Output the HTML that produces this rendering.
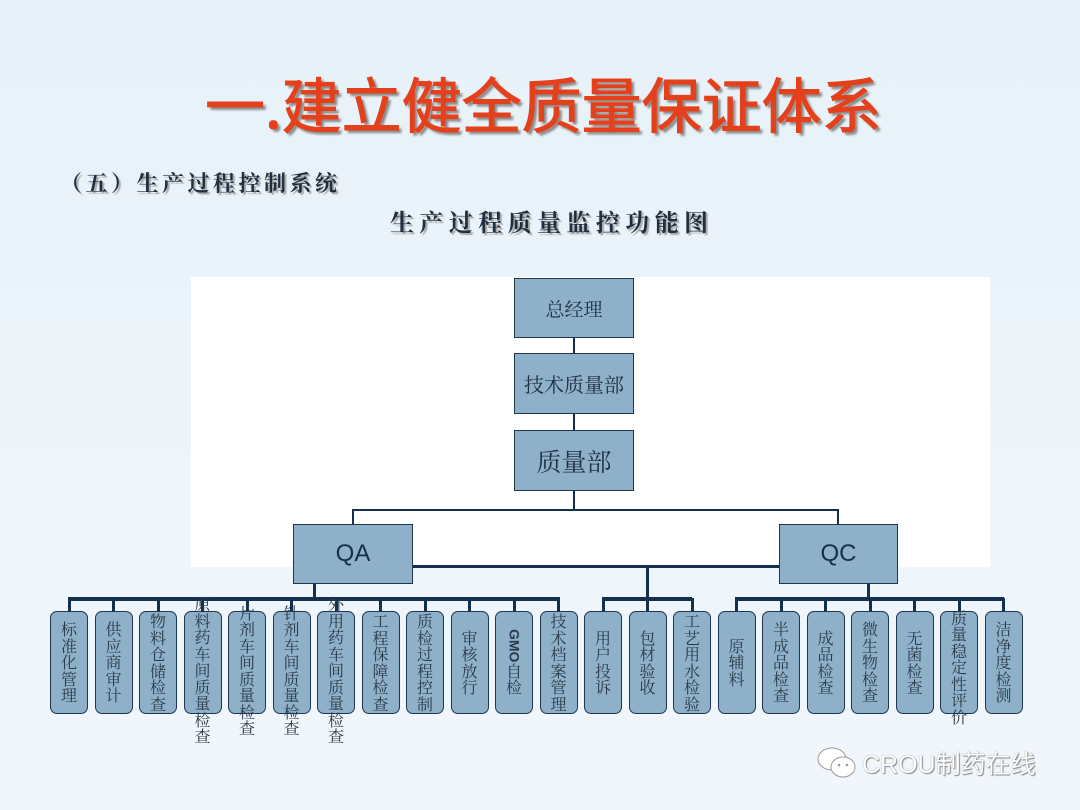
<!DOCTYPE html>
<html><head><meta charset="utf-8"><style>
html,body{margin:0;padding:0}
body{width:1080px;height:810px;position:relative;overflow:hidden;background:linear-gradient(180deg,#e6f1f8 0%,#eef5fb 60%,#f0f6fb 100%);font-family:"Liberation Sans","Noto Sans CJK SC",sans-serif}
.abs{position:absolute}
.title{left:205px;top:68px;font-size:60px;color:#e5401c;font-family:"Noto Sans CJK SC",sans-serif;font-weight:normal;white-space:nowrap;text-shadow:3px 3px 2px #8a8a8a;line-height:70px;-webkit-text-stroke:1px #e5401c}
.sub{left:60px;top:168px;font-size:22px;color:#1f2f40;letter-spacing:3.5px;white-space:nowrap;text-shadow:2px 2px 1px #aaa;font-family:"Noto Serif CJK SC",serif;font-weight:bold;line-height:30px}
.sub2{left:390px;top:205px;font-size:24px;color:#1f2f40;letter-spacing:5.4px;white-space:nowrap;text-shadow:2px 2px 1px #aaa;font-family:"Noto Serif CJK SC",serif;font-weight:bold;line-height:32px}
.panel{left:191px;top:277px;width:799px;height:290px;background:#fff}
.tb{background:#8eb0c8;border:1.5px solid #1f3550;box-sizing:border-box;display:flex;align-items:center;justify-content:center;color:#1f2f45;font-family:"Noto Serif CJK SC",serif}
.bx{position:absolute;top:611px;width:38px;height:103px;background:#8eb0c8;border:1.5px solid #1f3550;border-radius:7px;box-sizing:border-box}
.vt{position:absolute;top:611px;width:38px;height:103px;display:flex;flex-direction:column;align-items:center;justify-content:center;font-size:16px;line-height:16.5px;color:#2a3a4a;font-family:"Noto Serif CJK SC",serif}
.ln{position:absolute;background:#13304f}
.wm{left:862px;top:745px;font-size:25px;color:#fff;text-shadow:0 0 1px #777,1px 1px 1px #888;white-space:nowrap}
</style></head><body>
<div class="abs title">一.建立健全质量保证体系</div>
<div class="abs sub">（五）生产过程控制系统</div>
<div class="abs sub2">生产过程质量监控功能图</div>
<div class="abs panel"></div>

<div class="ln" style="left:573px;top:337px;width:2px;height:18px"></div>
<div class="ln" style="left:573px;top:413px;width:2px;height:18px"></div>
<div class="ln" style="left:573px;top:490px;width:2px;height:20px"></div>
<div class="ln" style="left:352px;top:509px;width:486px;height:1.5px"></div>
<div class="ln" style="left:352px;top:509px;width:1.5px;height:16px"></div>
<div class="ln" style="left:837px;top:509px;width:1.5px;height:16px"></div>
<div class="ln" style="left:412px;top:565px;width:368px;height:3px"></div>
<div class="ln" style="left:646px;top:565px;width:3px;height:35px"></div>
<div class="ln" style="left:313px;top:583px;width:3px;height:17px"></div>
<div class="ln" style="left:867px;top:583px;width:3px;height:17px"></div>
<div class="ln" style="left:68px;top:597px;width:492px;height:3.5px"></div>
<div class="ln" style="left:602px;top:597px;width:90px;height:3.5px"></div>
<div class="ln" style="left:735px;top:597px;width:269px;height:3.5px"></div>
<div id="drops"></div>

<div class="abs tb" style="left:514px;top:278px;width:120px;height:60px;font-size:19px">总经理</div>
<div class="abs tb" style="left:514px;top:353px;width:120px;height:61px;font-size:20px">技术质量部</div>
<div class="abs tb" style="left:514px;top:430px;width:120px;height:61px;font-size:25px">质量部</div>
<div class="abs tb" style="left:293px;top:524px;width:120px;height:60px;font-size:24px;font-family:'Liberation Sans',sans-serif;color:#13304f">QA</div>
<div class="abs tb" style="left:779px;top:524px;width:119px;height:60px;font-size:24px;font-family:'Liberation Sans',sans-serif;color:#13304f">QC</div>

<div id="boxes"></div>
<script>
var t=["标准化管理","供应商审计","物料仓储检查","原料药车间质量检查","片剂车间质量检查","针剂车间质量检查","外用药车间质量检查","工程保障检查","质检过程控制","审核放行","GMO自检","技术档案管理","用户投诉","包材验收","工艺用水检验","原辅料","半成品检查","成品检查","微生物检查","无菌检查","质量稳定性评价","洁净度检测"];
var h="",d="";
for(var i=0;i<22;i++){var x=50+44.5*i;
d+='<div class="ln" style="left:'+(x+17.5)+'px;top:598px;width:3px;height:14px"></div>';
h+='<div class="bx" style="left:'+x+'px"></div>';
var s=t[i],inner="";
if(s=="GMO自检"){inner='<span style="writing-mode:vertical-rl;font-family:Liberation Sans,sans-serif;font-weight:bold;font-size:14px;line-height:17px">GMO</span><span>自</span><span>检</span>';}
else{for(var j=0;j<s.length;j++)inner+='<span>'+s[j]+'</span>';}
var off=(s.length>=8)?8:(s.length==7?5:0);
h+='<div class="vt" style="left:'+x+'px;top:'+(611+off)+'px">'+inner+'</div>';}
document.getElementById("boxes").innerHTML=h;
document.getElementById("drops").innerHTML=d;
</script>

<svg class="abs" style="left:816px;top:745px" width="44" height="36" viewBox="0 0 44 36">
<ellipse cx="16" cy="14" rx="14" ry="11" fill="#fff" stroke="#999" stroke-width="1"/>
<ellipse cx="27" cy="22" rx="12" ry="10" fill="#fff" stroke="#999" stroke-width="1"/>
<circle cx="23" cy="20" r="1.3" fill="#999"/><circle cx="31" cy="20" r="1.3" fill="#999"/>
</svg>
<div class="abs wm">CROU制药在线</div>
</body></html>
